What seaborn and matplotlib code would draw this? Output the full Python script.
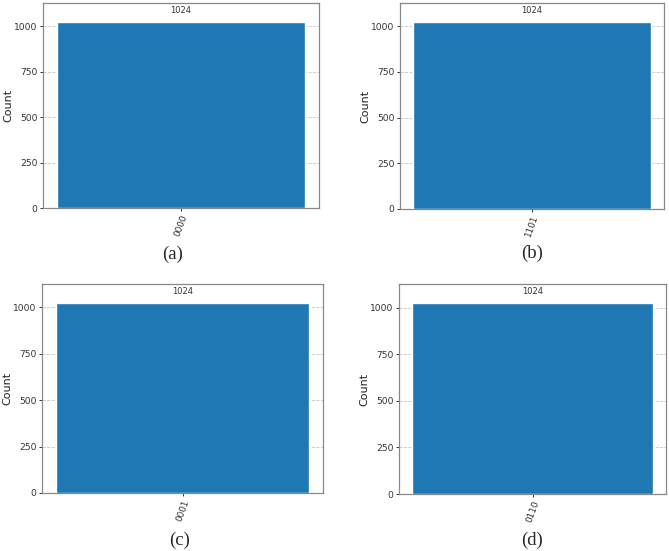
import matplotlib.pyplot as plt
import pandas as pd
import seaborn as sns

# Measured states (one outcome per circuit) and their counts.
states = ["0000", "1101", "0001", "0110"]
counts = [1024, 1024, 1024, 1024]
panel_labels = ["(a)", "(b)", "(c)", "(d)"]

sns.set_theme(style="white")
plt.rcParams["font.family"] = ["DejaVu Sans"]

W, H = 669, 551
fig = plt.figure(figsize=(W / 100, H / 100), dpi=100)

# axes boxes in pixels: left, top, right, bottom
boxes = [(43, 3, 319, 208), (400, 3, 664, 209), (42, 284, 323, 493), (399, 284, 666, 494)]
# label centres in pixels
label_pos = [(173, 254), (532, 253), (180, 540), (532, 540)]

for state, count, lab, box, lp in zip(states, counts, panel_labels, boxes, label_pos):
    l, t, r, b = box
    ax = fig.add_axes([l / W, 1 - b / H, (r - l) / W, (b - t) / H])
    df = pd.DataFrame({"state": [state], "count": [count]})
    sns.barplot(data=df, x="state", y="count", ax=ax, color="#1f77b4",
                saturation=1, width=0.9, zorder=3)
    ax.set_xlim(-0.5, 0.5)
    ax.set_ylim(0, max(counts) * 1.1)
    ax.set_yticks([0, 250, 500, 750, 1000])
    ax.grid(axis="y", linestyle="--", color="#c8c8c8", linewidth=0.6, zorder=0)
    ax.set_axisbelow(True)

    # value on top of bar
    for p in ax.patches:
        ax.annotate(f"{int(p.get_height())}", (p.get_x() + p.get_width() / 2, p.get_height()),
                    xytext=(0, 5), textcoords="offset points", ha="center", va="bottom",
                    fontsize=6, color="#333333")

    ax.set_xlabel("")
    ax.set_ylabel("Count", fontsize=8, color="#222222", labelpad=0.5)
    ax.tick_params(axis="y", labelsize=6.6, length=2.5, width=0.7, pad=1.5,
                   colors="#333333", left=True)
    ax.tick_params(axis="x", labelsize=6.4, length=2.5, width=0.7, pad=1.5,
                   colors="#333333", bottom=True, labelrotation=70)
    for s in ax.spines.values():
        s.set_color("#888888")
        s.set_linewidth(0.9)

    fig.text(lp[0] / W, 1 - lp[1] / H, lab, ha="center", va="center",
             fontsize=13.5, family=["Liberation Serif"])

fig.savefig("out.png", dpi=100)
